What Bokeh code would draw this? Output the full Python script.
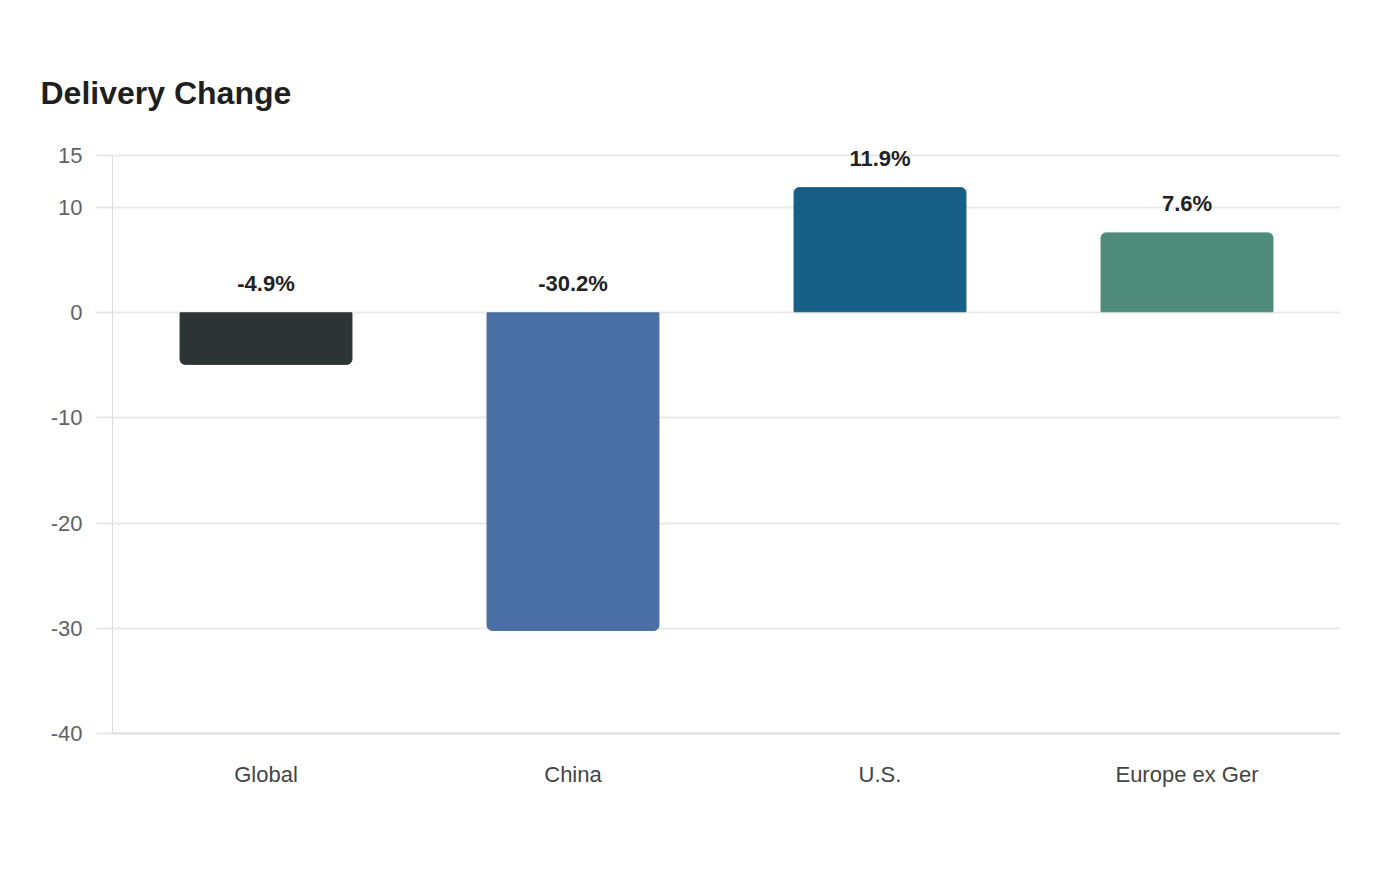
from bokeh.plotting import figure
from bokeh.models import Range1d, FixedTicker, ColumnDataSource, PrintfTickFormatter
from bokeh.core.properties import value
from bokeh.embed import file_html
from bokeh.resources import INLINE

# Year-over-year delivery change by region (%)
regions = ["Global", "China", "U.S.", "Europe ex Ger"]
changes = [-4.9, -30.2, 11.9, 7.6]
colors = ["#2d3436", "#4a6fa5", "#175f86", "#4e8b7a"]
y_ticks = [-40, -30, -20, -10, 0, 10, 15]

FONT = "Liberation Sans"

# Headroom above 15 keeps the value labels inside the frame; the axis itself stops at 15
p = figure(
    x_range=regions,
    y_range=Range1d(-40, 18),
    width=1400,
    height=880,
    output_backend="svg",
    toolbar_location=None,
    min_border_left=112,
    min_border_right=60,
    min_border_top=123,
    min_border_bottom=147,
)
p.outline_line_color = None
p.background_fill_color = "white"
p.border_fill_color = "white"

# Title
p.title.text = "Delivery Change"
p.title.text_font = FONT
p.title.text_font_size = "32px"
p.title.text_font_style = "bold"
p.title.text_color = "#1f1f1f"
p.title.align = "left"
p.title.offset = -72
p.title.standoff = 25

# Split into positive / negative so the rounded corners sit on the bar's far end
pos = ColumnDataSource(dict(
    x=[r for r, v in zip(regions, changes) if v >= 0],
    top=[v for v in changes if v >= 0],
    color=[c for c, v in zip(colors, changes) if v >= 0],
))
neg = ColumnDataSource(dict(
    x=[r for r, v in zip(regions, changes) if v < 0],
    top=[v for v in changes if v < 0],
    color=[c for c, v in zip(colors, changes) if v < 0],
))
p.vbar(x="x", top="top", bottom=0.1, width=0.56, fill_color="color",
       line_color="color", source=pos, border_radius=(5, 5, 0, 0))
p.vbar(x="x", top="top", bottom=0, width=0.56, fill_color="color",
       line_color="color", source=neg, border_radius=(0, 0, 5, 5))

# Value labels, placed above the bar or above the zero line
labels = ColumnDataSource(dict(
    x=regions,
    y=[max(v, 0) for v in changes],
    text=[f"{v:.1f}%" for v in changes],
))
p.text(x="x", y="y", text="text", source=labels, y_offset=-29,
       text_align="center", text_baseline="middle",
       text_font=value(FONT), text_font_size="22px",
       text_font_style="bold", text_color="#222222")

# Axes
p.yaxis.ticker = FixedTicker(ticks=y_ticks)
p.yaxis.bounds = (-40, 15)
p.yaxis.formatter = PrintfTickFormatter(format="%d")
p.yaxis.axis_line_color = "#dddddd"
p.yaxis.axis_line_width = 1
p.yaxis.major_tick_line_color = "#e8e8e8"
p.yaxis.major_tick_line_width = 2
p.yaxis.major_tick_out = 16
p.yaxis.major_tick_in = 0
p.yaxis.minor_tick_line_color = None
p.yaxis.major_label_standoff = 14
p.yaxis.major_label_text_font = FONT
p.yaxis.major_label_text_font_size = "22px"
p.yaxis.major_label_text_color = "#5f6368"

p.xaxis.axis_line_color = "#dddddd"
p.xaxis.axis_line_width = 2
p.xaxis.major_tick_line_color = None
p.xaxis.minor_tick_line_color = None
p.xaxis.major_label_standoff = 22
p.xaxis.major_label_text_font = FONT
p.xaxis.major_label_text_font_size = "22px"
p.xaxis.major_label_text_color = "#444444"

p.xgrid.grid_line_color = None
p.ygrid.grid_line_color = "#eaeaea"
p.ygrid.grid_line_width = 2

open("out.html", "w").write(file_html(p, INLINE))
